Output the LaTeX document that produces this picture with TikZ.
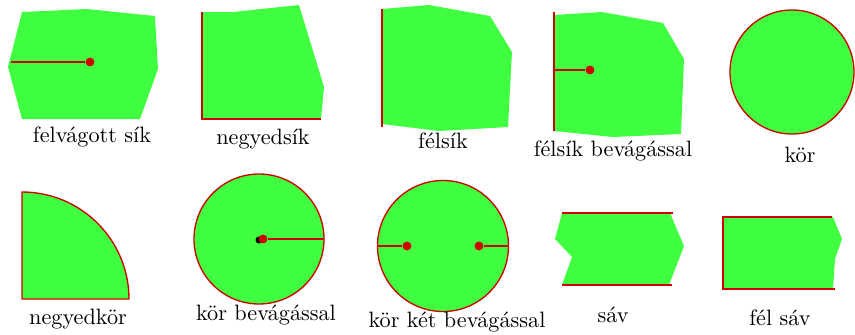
\documentclass[tikz,border=0pt]{standalone}
\usepackage{tikz}
\usetikzlibrary{calc}
\definecolor{lap}{HTML}{40FF40}
\definecolor{vag}{HTML}{D00000}

\begin{document}
\begin{tikzpicture}[x=0.45pt,y=-0.45pt,
    region/.style={fill=lap},
    perem/.style={vag,line width=0.6pt},
    vagas/.style={vag,line width=1.1pt},
    pont/.style={circle,fill=vag,inner sep=0pt,minimum size=4pt},
    felirat/.style={anchor=base,font=\normalsize}]
  \useasboundingbox (0,0) rectangle (855,334);
  % felso sor
  \fill[region] (22,12) -- (87,9) -- (155,16) -- (158,69) -- (140,119) -- (22,119) -- (8,67) -- cycle;
  \node[pont] (fv) at (90,62) {};
  \coordinate (fv0) at (11,62);
  \draw[vagas] (fv0) -- (fv);
  \node[felirat] (lfv) at (92,142) {felvágott sík};

  \fill[region] (202,12) -- (233,12) -- (299,5) -- (324,87) -- (321,119) -- (202,119) -- cycle;
  \draw[perem] (202,12) -- (202,119) -- (321,119);
  \node[felirat] (lns) at (263,144) {negyedsík};

  \fill[region] (382,9) -- (429,5) -- (490,16) -- (512,52) -- (508,127) -- (439,131) -- (382,124) -- cycle;
  \draw[perem] (382,9) -- (382,127);
  \node[felirat] (lfs) at (443,148) {félsík};

  \fill[region] (554,15) -- (602,12) -- (663,23) -- (684,59) -- (681,134) -- (613,137) -- (554,131) -- cycle;
  \draw[perem] (554,12) -- (554,131);
  \node[pont] (fb) at (590,70) {};
  \coordinate (fb0) at (554,70);
  \draw[vagas] (fb0) -- (fb);
  \node[felirat] (lfb) at (613,156) {félsík bevágással};

  \draw[perem,fill=lap] (792,72) circle (62);
  \node[felirat] (lk) at (800,162) {kör};
  % also sor
  \draw[perem,fill=lap] (22,299) -- (22,192) arc (-90:0:107) -- cycle;
  \node[felirat] (lnk) at (78,324) {negyedkör};

  \draw[perem,fill=lap] (259,239) circle (65);
  \fill (259,240) circle (3.5);
  \node[pont] (kb) at (263,239) {};
  \coordinate (kb0) at (324,239);
  \draw[vagas] (kb) -- (kb0);
  \node[felirat] (lkb) at (266,320) {kör bevágással};

  \draw[perem,fill=lap] (443,246) circle (65.5);
  \node[pont] (kk1) at (407,246) {};
  \node[pont] (kk2) at (479,246) {};
  \coordinate (kk10) at (377.5,246);
  \coordinate (kk20) at (508.5,246);
  \draw[vagas] (kk10) -- (kk1);
  \draw[vagas] (kk2) -- (kk20);
  \node[felirat] (lkk) at (457,327) {kör két bevágással};

  \fill[region] (562,213) -- (670,213) -- (684,246) -- (669,285) -- (562,285) -- (572,257) -- (555,239) -- cycle;
  \draw[perem] (562,213) -- (673,213);
  \draw[perem] (562,285) -- (672,285);
  \node[felirat] (ls) at (613,322) {sáv};

  \fill[region] (723,217) -- (833,217) -- (842,239) -- (835,259) -- (833,289) -- (723,289) -- cycle;
  \draw[perem] (832,217) -- (723,217) -- (723,289) -- (835,289);
  \node[felirat] (lfsv) at (780,325) {fél sáv};
\end{tikzpicture}
\end{document}
